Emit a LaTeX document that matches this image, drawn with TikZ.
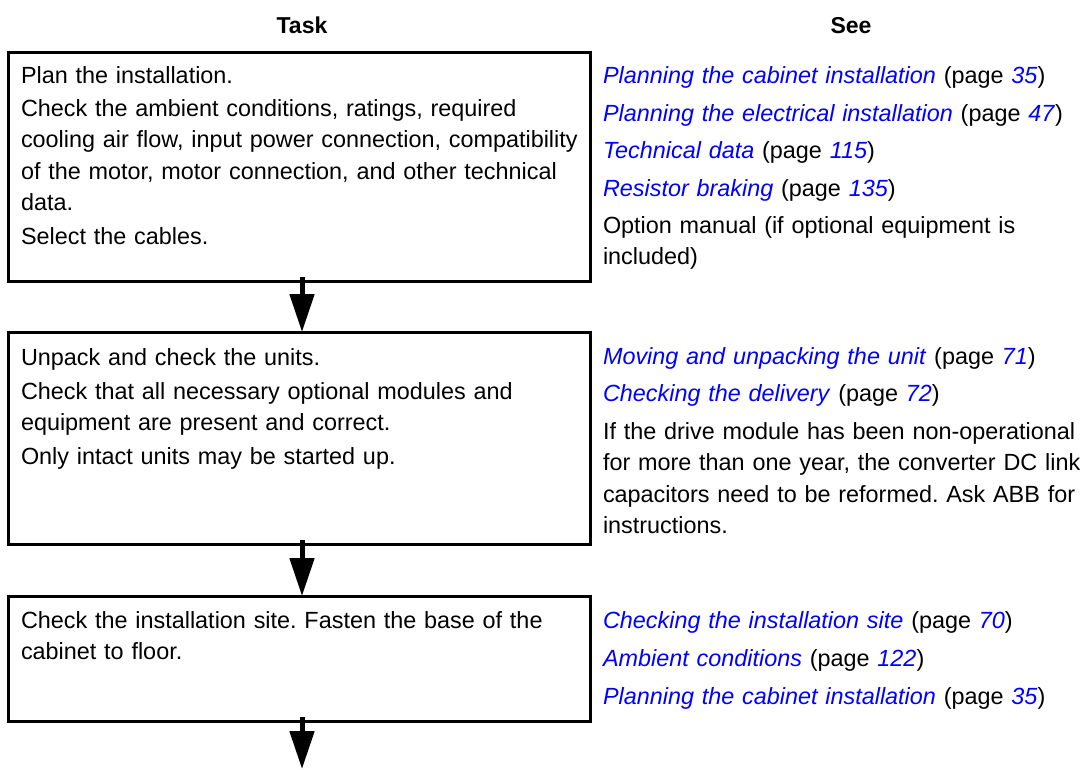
\documentclass[tikz,border=0pt]{standalone}
\usepackage{fontspec}
\setmainfont{Liberation Sans}
\usetikzlibrary{arrows.meta}
\definecolor{linkblue}{RGB}{0,0,255}
\newcommand\lnk[1]{\textcolor{linkblue}{\textit{#1}}}
\newcommand\pg[1]{(page \lnk{#1})}
\frenchspacing
\tikzset{
  taskbox/.style={draw=black, line width=3pt, rectangle, inner sep=0pt, outer sep=0pt},
  txt/.style={anchor=base west, inner sep=0pt, outer sep=0pt, text width=600pt, align=left,
              font=\fontsize{23.4}{31.5}\selectfont\frenchspacing},
  head/.style={anchor=base, inner sep=0pt, font=\fontsize{23}{28}\selectfont\bfseries},
  flow/.style={line width=5pt, -{Triangle[length=38pt,width=24pt]}}
}
\begin{document}
\begin{tikzpicture}[x=1pt,y=-1pt]
\useasboundingbox (0,0) rectangle (1086,769);
\fill[white] (0,0) rectangle (1086,769);
% headers
\node[head] (htask) at (302,33) {Task};
\node[head] (hsee) at (851,33) {See};
% boxes
\node[taskbox, minimum width=582pt, minimum height=229pt] (b1) at (299,166.5) {};
\node[taskbox, minimum width=582pt, minimum height=212pt] (b2) at (299,438) {};
\node[taskbox, minimum width=582pt, minimum height=125pt] (b3) at (299,658.5) {};
\coordinate (end) at (302,769);
% box 1 texts
\node[txt] (t1a) at (21,83) {Plan the installation.};
\node[txt] (t1b) at (21,116) {Check the ambient conditions, ratings, required\\cooling air flow, input power connection, compatibility\\of the motor, motor connection, and other technical\\data.};
\node[txt] (t1c) at (21,244) {Select the cables.};
\node[txt] (s1a) at (603,83) {\lnk{Planning the cabinet installation} \pg{35}};
\node[txt] (s1b) at (603,121) {\lnk{Planning the electrical installation} \pg{47}};
\node[txt] (s1c) at (603,158) {\lnk{Technical data} \pg{115}};
\node[txt] (s1d) at (603,196) {\lnk{Resistor braking} \pg{135}};
\node[txt] (s1e) at (603,233) {Option manual (if optional equipment is\\included)};
% box 2 texts
\node[txt] (t2a) at (21,365) {Unpack and check the units.};
\node[txt] (t2b) at (21,399) {Check that all necessary optional modules and\\equipment are present and correct.};
\node[txt] (t2c) at (21,464) {Only intact units may be started up.};
\node[txt] (s2a) at (603,364) {\lnk{Moving and unpacking the unit} \pg{71}};
\node[txt] (s2b) at (603,401) {\lnk{Checking the delivery} \pg{72}};
\node[txt] (s2c) at (603,439) {If the drive module has been non-operational\\for more than one year, the converter DC link\\capacitors need to be reformed. Ask ABB for\\instructions.};
% box 3 texts
\node[txt] (t3a) at (21,628) {Check the installation site. Fasten the base of the\\cabinet to floor.};
\node[txt] (s3a) at (603,628) {\lnk{Checking the installation site} \pg{70}};
\node[txt] (s3b) at (603,666) {\lnk{Ambient conditions} \pg{122}};
\node[txt] (s3c) at (603,704) {\lnk{Planning the cabinet installation} \pg{35}};
% arrows
\draw[flow] ([xshift=3pt,yshift=4pt]b1.south) -- ([xshift=3pt]b2.north);
\draw[flow] ([xshift=3pt,yshift=4pt]b2.south) -- ([xshift=3pt]b3.north);
\draw[flow] ([xshift=3pt,yshift=4pt]b3.south) -- (end);
\end{tikzpicture}
\end{document}
